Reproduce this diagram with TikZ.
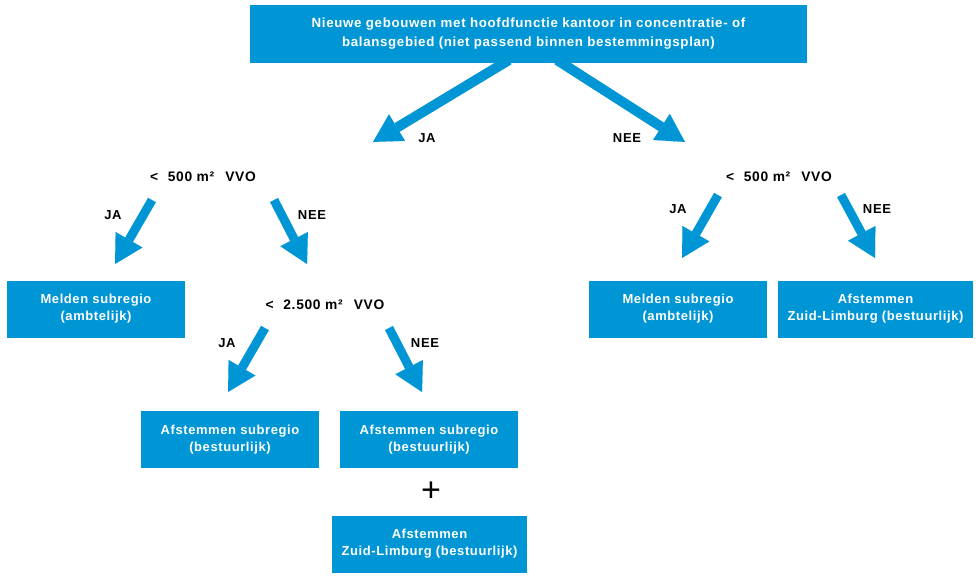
\documentclass[tikz,border=0pt]{standalone}
\usepackage{fontspec}
\setmainfont{Liberation Sans}
\usetikzlibrary{arrows.meta}
\definecolor{vblue}{RGB}{0,150,214}
\newcommand\myboxfont{\fontsize{13}{17}\selectfont\bfseries\addfontfeatures{LetterSpace=4.5}}
\newcommand\mytopfont{\fontsize{13.3}{19}\selectfont\bfseries\addfontfeatures{LetterSpace=5}}
\newcommand\mylblfont{\fontsize{13}{15}\selectfont\bfseries\addfontfeatures{LetterSpace=5}}
\newcommand\myqfont{\fontsize{13.8}{15}\selectfont\bfseries\addfontfeatures{LetterSpace=5}}
\begin{document}
\begin{tikzpicture}[x=1pt,y=-1pt,
  box/.style={fill=vblue, text=white, font=\myboxfont, align=center, inner sep=0pt,
              minimum width=178pt, minimum height=57pt},
  widebox/.style={box, minimum width=195pt},
  lbl/.style={font=\mylblfont, text=black, inner sep=1pt},
  qlbl/.style={lbl, font=\myqfont},
  arr/.style={draw=vblue, line width=9pt,
              -{Triangle[width=31pt,length=28pt,line width=0.1pt]}},
  toparr/.style={arr, line width=10pt},
]
\useasboundingbox (0,0) rectangle (978,579);

% top box
\node[box, font=\mytopfont, minimum width=557pt, minimum height=58pt] (top) at (528.5,34)
  {Nieuwe gebouwen met hoofdfunctie kantoor in concentratie- of\\balansgebied (niet passend binnen bestemmingsplan)};

% top arrows
\coordinate (tls) at (509,60);
\coordinate (tle) at (373,142);
\coordinate (trs) at (557,60);
\coordinate (tre) at (685,142);
\draw[toparr] (tls) -- (tle);
\draw[toparr] (trs) -- (tre);
\node[lbl] (tja) at (427,138) {JA};
\node[lbl] (tnee) at (627,138) {NEE};

% left branch
\node[qlbl] (q1) at (203,177) {<\hspace{0.7em}500 m²\hspace{0.8em}VVO};
\coordinate (l1s) at (152,200);
\coordinate (l1e) at (115,264);
\coordinate (l2s) at (274,200);
\coordinate (l2e) at (307,264);
\draw[arr] (l1s) -- (l1e);
\draw[arr] (l2s) -- (l2e);
\node[lbl] (lja) at (113,215) {JA};
\node[lbl] (lnee) at (312,215) {NEE};

\node[box] (melden1) at (96,309) {Melden subregio\\(ambtelijk)};

\node[qlbl] (q2) at (325,305) {<\hspace{0.7em}2.500 m²\hspace{0.8em}VVO};
\coordinate (m1s) at (265,328);
\coordinate (m1e) at (228,392);
\coordinate (m2s) at (389,328);
\coordinate (m2e) at (422,392);
\draw[arr] (m1s) -- (m1e);
\draw[arr] (m2s) -- (m2e);
\node[lbl] (mja) at (227,343) {JA};
\node[lbl] (mnee) at (425,343) {NEE};

\node[box] (afst1) at (230,439.5) {Afstemmen subregio\\(bestuurlijk)};
\node[box] (afst2) at (429,439.5) {Afstemmen subregio\\(bestuurlijk)};
\node[font=\fontsize{34}{34}\selectfont, inner sep=0pt] (plus) at (431,492) {+};
\node[widebox] (zl1) at (429.5,544) {Afstemmen\\Zuid-Limburg (bestuurlijk)};

% right branch
\node[qlbl] (q3) at (779,177) {<\hspace{0.7em}500 m²\hspace{0.8em}VVO};
\coordinate (r1s) at (718,195);
\coordinate (r1e) at (682,258);
\coordinate (r2s) at (841,195);
\coordinate (r2e) at (875,258);
\draw[arr] (r1s) -- (r1e);
\draw[arr] (r2s) -- (r2e);
\node[lbl] (rja) at (678,209) {JA};
\node[lbl] (rnee) at (877,209) {NEE};

\node[box] (melden2) at (678,309) {Melden subregio\\(ambtelijk)};
\node[widebox] (zl2) at (875.5,309) {Afstemmen\\Zuid-Limburg (bestuurlijk)};
\end{tikzpicture}
\end{document}
